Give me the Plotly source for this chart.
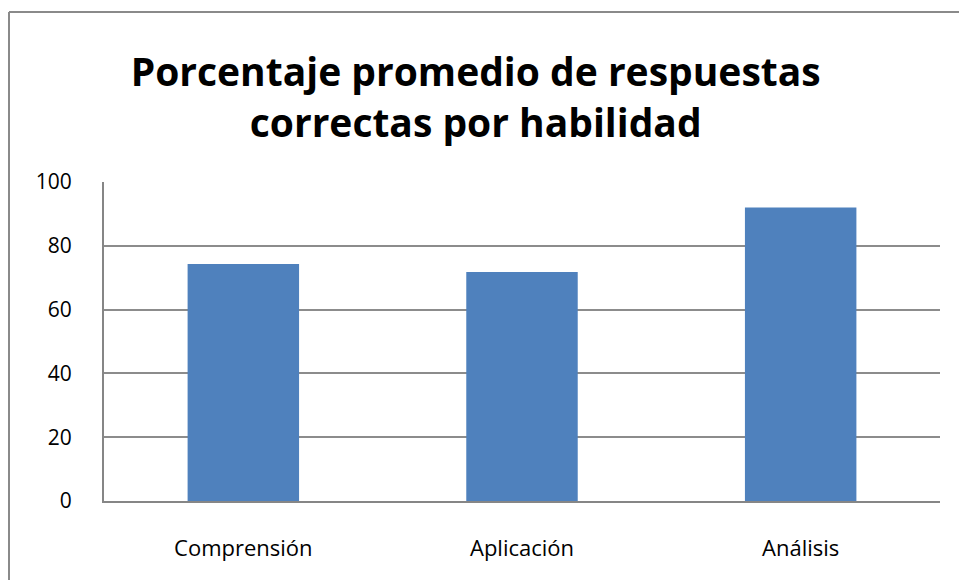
import plotly.graph_objects as go

categories = ["Comprensión", "Aplicación", "Análisis"]
values = [74.3, 71.8, 92.0]
y_ticks = [0, 20, 40, 60, 80, 100]
title_lines = ["Porcentaje promedio de respuestas", "correctas por habilidad"]

W, H = 959, 580
L, R, T, B = 104, 19, 182, 79
pw, ph = W - L - R, H - T - B

fig = go.Figure()
fig.add_trace(go.Bar(x=categories, y=values, marker=dict(color="#4F81BD", line=dict(width=0)),
                     hoverinfo="x+y"))

fig.update_layout(
    width=W, height=H,
    margin=dict(l=L, r=R, t=T, b=B),
    paper_bgcolor="white", plot_bgcolor="white",
    bargap=0.6,
    showlegend=False,
    font=dict(family="Open Sans, Liberation Sans, sans-serif", color="black"),
    title=dict(text="<b>" + "<br>".join(title_lines) + "</b>",
               x=0.496, xanchor="center", y=0.851, yanchor="middle",
               font=dict(size=39, family="Open Sans, sans-serif", color="black")),
    xaxis=dict(showgrid=False, showline=True, linecolor="#868686", linewidth=2,
               ticks="", tickfont=dict(size=22), ticklabelstandoff=27),
    yaxis=dict(range=[0, 100], tickvals=y_ticks, showgrid=True, gridcolor="#8c8c8c",
               gridwidth=2, showline=True, linecolor="#868686", linewidth=2,
               ticks="", tickfont=dict(size=21), ticklabelstandoff=26, zeroline=False),
)

# outer chart border (left and top edges visible)
x_left = (9 - L) / pw
y_top = 1 + (T - 12) / ph
fig.add_shape(type="line", xref="paper", yref="paper", x0=x_left, x1=x_left,
              y0=-(B + 5) / ph, y1=y_top, line=dict(color="#8a8a8a", width=2))
fig.add_shape(type="line", xref="paper", yref="paper", x0=x_left, x1=(W + 5 - L) / pw,
              y0=y_top, y1=y_top, line=dict(color="#8a8a8a", width=2))

fig.write_html("out.html", config={"displayModeBar": False},
               post_script="document.body.style.margin='0';document.body.style.overflow='hidden';")
